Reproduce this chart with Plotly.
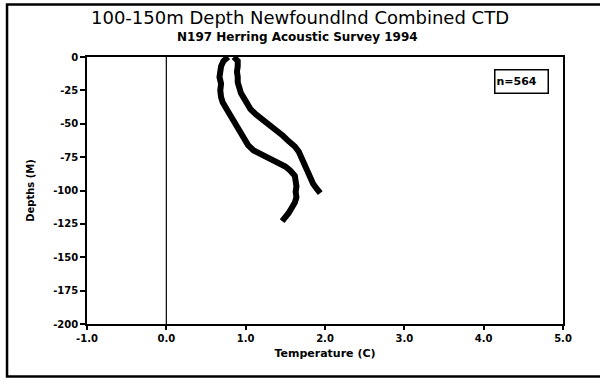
import plotly.graph_objects as go

# Temperature profiles (C) vs depth (m)
depth_a = [0, -3, -7, -11, -15, -20, -25, -30, -34, -38, -42, -46, -50, -54,
           -58, -62, -66, -70, -73, -76, -79, -82, -85, -89, -93, -97, -101,
           -105, -109, -113, -117, -120, -123]
temp_a = [0.78, 0.72, 0.69, 0.68, 0.67, 0.69, 0.68, 0.69, 0.71, 0.75, 0.79,
          0.84, 0.88, 0.92, 0.95, 0.99, 1.03, 1.10, 1.20, 1.31, 1.43, 1.50,
          1.56, 1.62, 1.63, 1.64, 1.63, 1.64, 1.62, 1.59, 1.54, 1.50, 1.46]

depth_b = [0, -3, -7, -11, -15, -19, -23, -27, -31, -35, -39, -43, -47, -51,
           -55, -59, -63, -67, -71, -75, -79, -83, -87, -91, -95, -99, -102]
temp_b = [0.85, 0.90, 0.90, 0.89, 0.90, 0.90, 0.92, 0.94, 0.98, 1.01, 1.06,
          1.13, 1.22, 1.31, 1.39, 1.47, 1.54, 1.62, 1.67, 1.70, 1.72, 1.75,
          1.77, 1.81, 1.85, 1.90, 1.94]

x_ticks = [-1, 0, 1, 2, 3, 4, 5]
x_tick_labels = ["-1.0", "0.0", "1.0", "2.0", "3.0", "4.0", "5.0"]
y_ticks = [0, -25, -50, -75, -100, -125, -150, -175, -200]
y_tick_labels = ["0", "-25", "-50", "-75", "-100", "-125", "-150", "-175", "-200"]

FONT = "DejaVu Sans"

fig = go.Figure()
for t, d in ((temp_a, depth_a), (temp_b, depth_b)):
    fig.add_trace(go.Scatter(x=t, y=d, mode="lines",
                             line=dict(color="black", width=6),
                             showlegend=False, hoverinfo="skip"))

# zero-temperature reference line
fig.add_shape(type="line", xref="x", yref="y", x0=0, x1=0, y0=-200, y1=0,
              line=dict(color="black", width=1.2), layer="below")

# outer frame (left, top and bottom sides)
fig.add_shape(type="path", xref="paper", yref="paper",
              path="M 1.2,1.197 L -0.168,1.197 L -0.168,-0.197 L 1.2,-0.197",
              line=dict(color="black", width=2.5))

fig.update_layout(
    width=600, height=379,
    margin=dict(l=87, r=37, t=57, b=55),
    paper_bgcolor="white", plot_bgcolor="white",
    font=dict(family=FONT, color="black"),
    xaxis=dict(range=[-1, 5], tickvals=x_ticks, ticktext=x_tick_labels,
               showgrid=False, zeroline=False, showline=True,
               linecolor="black", linewidth=1.5, mirror=True,
               ticks="outside", ticklen=4, tickwidth=1.5, tickcolor="black",
               tickfont=dict(family=FONT, size=10, color="black",
                             weight="bold"),
               title=dict(text="<b>Temperature (C)</b>", standoff=7,
                          font=dict(family=FONT, size=11))),
    yaxis=dict(range=[-200, 0], tickvals=y_ticks, ticktext=y_tick_labels,
               showgrid=False, zeroline=False, showline=True,
               linecolor="black", linewidth=1.5, mirror=True,
               ticks="outside", ticklen=5, tickwidth=1.5, tickcolor="black",
               tickfont=dict(family=FONT, size=10, color="black",
                             weight="bold"),
               title=dict(text="<b>Depths (M)</b>", standoff=17,
                          font=dict(family=FONT, size=10))),
    annotations=[
        dict(text="100-150m Depth Newfoundlnd Combined CTD",
             xref="paper", yref="paper", x=(300 - 87) / 476,
             y=(324 - 17.5) / 267, showarrow=False,
             xanchor="center", yanchor="middle",
             font=dict(family=FONT, size=18, color="black")),
        dict(text="<b>N197 Herring Acoustic Survey 1994</b>",
             xref="paper", yref="paper", x=(297 - 87) / 476,
             y=(324 - 37) / 267, showarrow=False,
             xanchor="center", yanchor="middle",
             font=dict(family=FONT, size=12, color="black")),
        dict(text="<b>n=564</b>", xref="paper", yref="paper",
             x=(521 - 87) / 476, y=(324 - 81) / 267, showarrow=False,
             xanchor="center", yanchor="middle", align="left",
             width=50, height=20, bordercolor="black", borderwidth=1.5,
             borderpad=1, bgcolor="white",
             font=dict(family=FONT, size=11, color="black")),
    ],
)

fig.write_html("out.html")
